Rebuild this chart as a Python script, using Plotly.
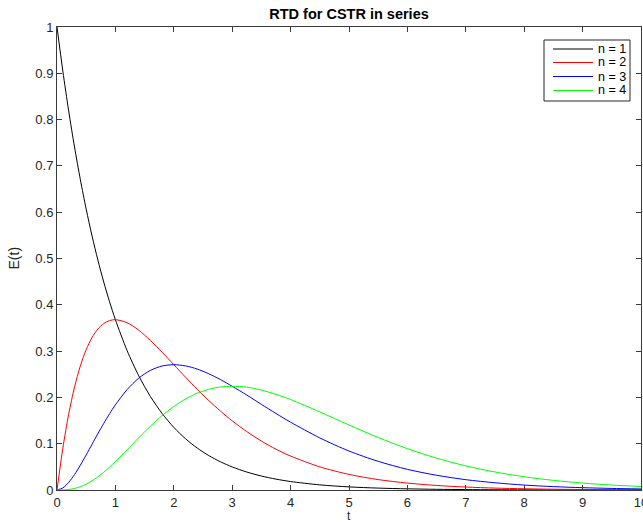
import plotly.graph_objects as go

t = [0, 0.1, 0.2, 0.3, 0.4, 0.5, 0.6, 0.7, 0.8, 0.9, 1.0, 1.2, 1.4, 1.6, 1.8, 2.0,
     2.2, 2.4, 2.6, 2.8, 3.0, 3.25, 3.5, 3.75, 4.0, 4.5, 5, 5.5, 6, 6.5, 7, 7.5,
     8, 8.5, 9, 9.5, 10]
e_n1 = [1.0, 0.9048, 0.8187, 0.7408, 0.6703, 0.6065, 0.5488, 0.4966, 0.4493, 0.4066,
        0.3679, 0.3012, 0.2466, 0.2019, 0.1653, 0.1353, 0.1108, 0.0907, 0.0743,
        0.0608, 0.0498, 0.0388, 0.0302, 0.0235, 0.0183, 0.0111, 0.0067, 0.0041,
        0.0025, 0.0015, 0.0009, 0.00055, 0.00034, 0.0002, 0.00012, 0.00007, 0.000045]
e_n2 = [0.0, 0.0905, 0.1637, 0.2222, 0.2681, 0.3033, 0.3293, 0.3476, 0.3595, 0.3659,
        0.3679, 0.3614, 0.3452, 0.3230, 0.2975, 0.2707, 0.2438, 0.2177, 0.1931,
        0.1703, 0.1494, 0.1262, 0.1057, 0.0881, 0.0733, 0.0500, 0.0337, 0.0225,
        0.0149, 0.0098, 0.0064, 0.0041, 0.0027, 0.0017, 0.0011, 0.0007, 0.00045]
e_n3 = [0.0, 0.0045, 0.0164, 0.0333, 0.0536, 0.0758, 0.0988, 0.1217, 0.1438, 0.1647,
        0.1839, 0.2168, 0.2416, 0.2584, 0.2678, 0.2707, 0.2681, 0.2613, 0.2510,
        0.2384, 0.2240, 0.2051, 0.1850, 0.1652, 0.1465, 0.1125, 0.0842, 0.0619,
        0.0446, 0.0318, 0.0223, 0.0156, 0.0107, 0.0073, 0.0050, 0.0034, 0.0023]
e_n4 = [0.0, 0.00015, 0.0011, 0.0033, 0.0072, 0.0126, 0.0198, 0.0284, 0.0383, 0.0494,
        0.0613, 0.0867, 0.1128, 0.1378, 0.1607, 0.1804, 0.1966, 0.2090, 0.2176,
        0.2225, 0.2240, 0.2222, 0.2158, 0.2065, 0.1954, 0.1687, 0.1404, 0.1135,
        0.0892, 0.0688, 0.0521, 0.0389, 0.0286, 0.0208, 0.0150, 0.0107, 0.0076]

names = ["n = 1", "n = 2", "n = 3", "n = 4"]
colors = ["#000000", "#ff0000", "#0000ff", "#00ff00"]
values = [e_n1, e_n2, e_n3, e_n4]

W, H = 643, 523
L, R, T, B = 57, 2, 27, 33
pw, ph = W - L - R, H - T - B
FONT = "Liberation Sans, Arial"

def px(x):
    return (x - L) / pw

def py(y):
    return (H - B - y) / ph

fig = go.Figure()
for name, y, c in zip(names, values, colors):
    fig.add_trace(go.Scatter(x=t, y=y, mode="lines", name=name, showlegend=False,
                             line=dict(color=c, width=1, shape="spline", smoothing=0.8)))

axis_common = dict(showline=True, linecolor="#3a3a3a", linewidth=1, mirror="ticks",
                   ticks="inside", ticklen=5, tickcolor="#3a3a3a", showgrid=False,
                   zeroline=False, ticklabeloverflow="allow", automargin=False,
                   tickfont=dict(family=FONT, size=13, color="#262626"))

# legend drawn as box + sample lines + labels
shapes = [dict(type="rect", xref="paper", yref="paper", x0=px(544), x1=px(630),
               y0=py(101), y1=py(40), line=dict(color="#262626", width=1),
               fillcolor="white", layer="above")]
annotations = []
item_y = [49, 62.5, 76.5, 90.5]
for name, c, yy in zip(names, colors, item_y):
    shapes.append(dict(type="line", xref="paper", yref="paper", x0=px(553), x1=px(593),
                       y0=py(yy), y1=py(yy), line=dict(color=c, width=1), layer="above"))
    annotations.append(dict(text=name, xref="paper", yref="paper", x=px(596), y=py(yy),
                            xanchor="left", yanchor="middle", showarrow=False,
                            font=dict(family=FONT, size=12.5, color="#000000")))

# axis titles
annotations.append(dict(text="t", xref="paper", yref="paper", x=0.5, y=py(516),
                        xanchor="center", yanchor="middle", showarrow=False, borderpad=0,
                        font=dict(family=FONT, size=12, color="#262626")))
annotations.append(dict(text="E(t)", xref="paper", yref="paper", x=px(13), y=0.5,
                        xanchor="center", yanchor="middle", textangle=-90, showarrow=False,
                        font=dict(family=FONT, size=14, color="#262626")))

fig.update_layout(
    width=W, height=H,
    margin=dict(l=L, r=R, t=T, b=B, autoexpand=False),
    paper_bgcolor="white", plot_bgcolor="white",
    font=dict(family=FONT, size=13, color="#262626"),
    title=dict(text="<b>RTD for CSTR in series</b>", x=(L + W - R) / 2 / W, xanchor="center",
               y=1 - 14 / H, yanchor="middle",
               font=dict(family=FONT, size=14.5, color="#000000")),
    xaxis=dict(range=[0, 10], dtick=1, **axis_common),
    yaxis=dict(range=[0, 1], dtick=0.1, **axis_common),
    shapes=shapes,
    annotations=annotations,
    showlegend=False,
)
fig.write_html("out.html")
